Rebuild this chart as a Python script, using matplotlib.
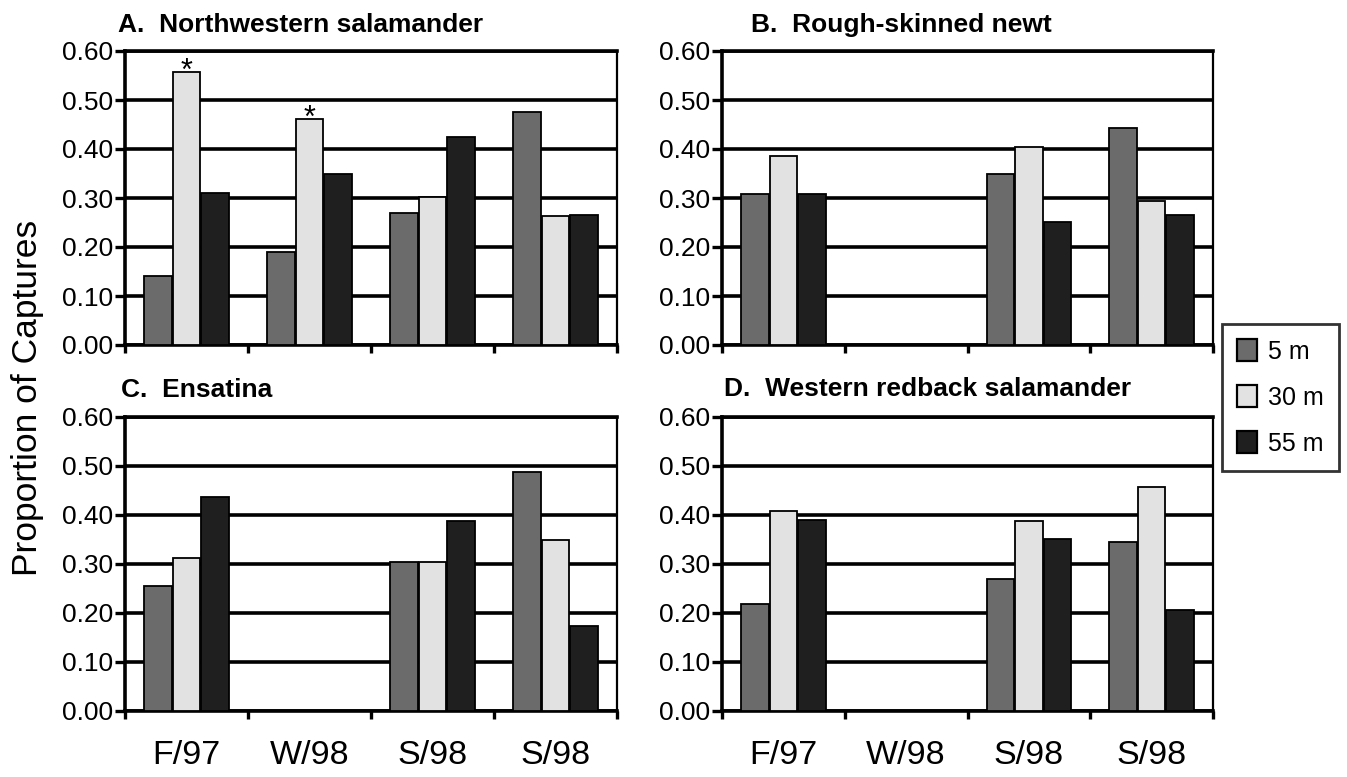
import numpy as np
import matplotlib
matplotlib.use("Agg")
import matplotlib.pyplot as plt
from matplotlib.patches import Patch
from matplotlib import font_manager

plt.rcParams['font.family'] = ['Liberation Sans', 'DejaVu Sans']

seasons = ["F/97", "W/98", "S/98", "S/98"]
series_names = ["5 m", "30 m", "55 m"]
series_colors = ["#6b6b6b", "#e2e2e2", "#1f1f1f"]

panel_titles = ["A.  Northwestern salamander", "B.  Rough-skinned newt",
                "C.  Ensatina", "D.  Western redback salamander"]

# values per panel: rows = 5 m, 30 m, 55 m ; columns = seasons (nan = no data)
nw_5m = [0.14, 0.19, 0.27, 0.475]
nw_30m = [0.557, 0.462, 0.303, 0.263]
nw_55m = [0.31, 0.349, 0.425, 0.265]

rs_5m = [0.309, np.nan, 0.348, 0.443]
rs_30m = [0.386, np.nan, 0.404, 0.294]
rs_55m = [0.309, np.nan, 0.252, 0.265]

en_5m = [0.255, np.nan, 0.304, 0.488]
en_30m = [0.311, np.nan, 0.304, 0.349]
en_55m = [0.437, np.nan, 0.388, 0.173]

wr_5m = [0.217, np.nan, 0.268, 0.344]
wr_30m = [0.407, np.nan, 0.388, 0.457]
wr_55m = [0.389, np.nan, 0.351, 0.205]

# significance markers: (panel index, season index, series index)
stars = [(0, 0, 1), (0, 1, 1)]

yticks = [0.0, 0.1, 0.2, 0.3, 0.4, 0.5, 0.6]
ytick_labels = ["0.00", "0.10", "0.20", "0.30", "0.40", "0.50", "0.60"]

panels = [
    [nw_5m, nw_30m, nw_55m],
    [rs_5m, rs_30m, rs_55m],
    [en_5m, en_30m, en_55m],
    [wr_5m, wr_30m, wr_55m],
]

W, H = 1347, 777
fig = plt.figure(figsize=(W / 100, H / 100), dpi=100)

def fx(px):
    return px / W

def fy(py):
    return 1 - py / H

ax_rects = [
    [fx(125), fy(345), fx(492), 294 / H],
    [fx(722), fy(345), fx(491), 294 / H],
    [fx(125), fy(710.7), fx(492), 294 / H],
    [fx(722), fy(710.7), fx(491), 294 / H],
]

bar_w = 0.225
offsets = [-0.232, 0.0, 0.232]
axes = []
for pi, (rect, data) in enumerate(zip(ax_rects, panels)):
    ax = fig.add_axes(rect)
    axes.append(ax)
    centers = np.arange(len(seasons)) + 0.5
    for si, vals in enumerate(data):
        vals = np.array(vals, dtype=float)
        m = ~np.isnan(vals)
        ax.bar(centers[m] + offsets[si], vals[m], width=bar_w,
               color=series_colors[si], edgecolor="black", linewidth=1.3,
               zorder=3)
    ax.set_xlim(0, len(seasons))
    ax.set_ylim(0, 0.6)
    ax.set_yticks(yticks)
    ax.set_yticklabels(ytick_labels)
    ax.yaxis.grid(True, color="black", linewidth=2.6, zorder=1)
    ax.set_axisbelow(True)
    ax.set_xticks(np.arange(len(seasons) + 1))
    ax.set_xticklabels([])
    ax.set_xticks(centers, minor=True)
    if pi >= 2:
        ax.set_xticklabels(seasons, minor=True)
    else:
        ax.set_xticklabels([], minor=True)
    ax.tick_params(axis="x", which="major", direction="out", length=6,
                   width=2.4, color="black")
    ax.tick_params(axis="x", which="minor", length=0, pad=21, labelsize=24.5)
    ax.tick_params(axis="y", direction="out", length=7, width=2.4, pad=1.5,
                   labelsize=19)
    for side in ["left", "bottom", "top"]:
        ax.spines[side].set_linewidth(2.6)
        ax.spines[side].set_color("black")
    ax.spines["right"].set_linewidth(1.6)
    ax.spines["right"].set_color("black")

for (pi, ci, si) in stars:
    ax = axes[pi]
    val = panels[pi][si][ci]
    ax.annotate("*", xy=(ci + 0.5 + offsets[si], val), xytext=(0, -6),
                textcoords="offset points", ha="center", va="baseline",
                fontsize=22, zorder=5)

title_pos = [(118, 32), (751, 32), (121, 397), (724, 396)]
for t, (x, y) in zip(panel_titles, title_pos):
    fig.text(fx(x), fy(y), t, ha="left", va="baseline", fontsize=19,
             fontweight="bold")

installed = {f.name for f in font_manager.fontManager.ttflist}
if "Liberation Sans Narrow" in installed:
    ylab_family, ylab_size = ["Liberation Sans Narrow", "Liberation Sans"], 30
else:
    ylab_family, ylab_size = ["Liberation Sans", "DejaVu Sans"], 25.5
fig.text(fx(28), fy(398), "Proportion of Captures", rotation=90,
         ha="center", va="center", fontsize=ylab_size, family=ylab_family)

handles = [Patch(facecolor=c, edgecolor="black", linewidth=1.6, label=n)
           for c, n in zip(series_colors, series_names)]
leg = fig.legend(handles=handles, loc="upper left",
                 bbox_to_anchor=(fx(1222), fy(324)),
                 bbox_transform=fig.transFigure,
                 fontsize=18, handlelength=0.8, handleheight=1.0,
                 labelspacing=0.85, handletextpad=0.45, borderpad=0.6,
                 borderaxespad=0, fancybox=False, frameon=True)
leg.get_frame().set_edgecolor("black")
leg.get_frame().set_linewidth(2.0)

fig.savefig("out.png", dpi=100)
